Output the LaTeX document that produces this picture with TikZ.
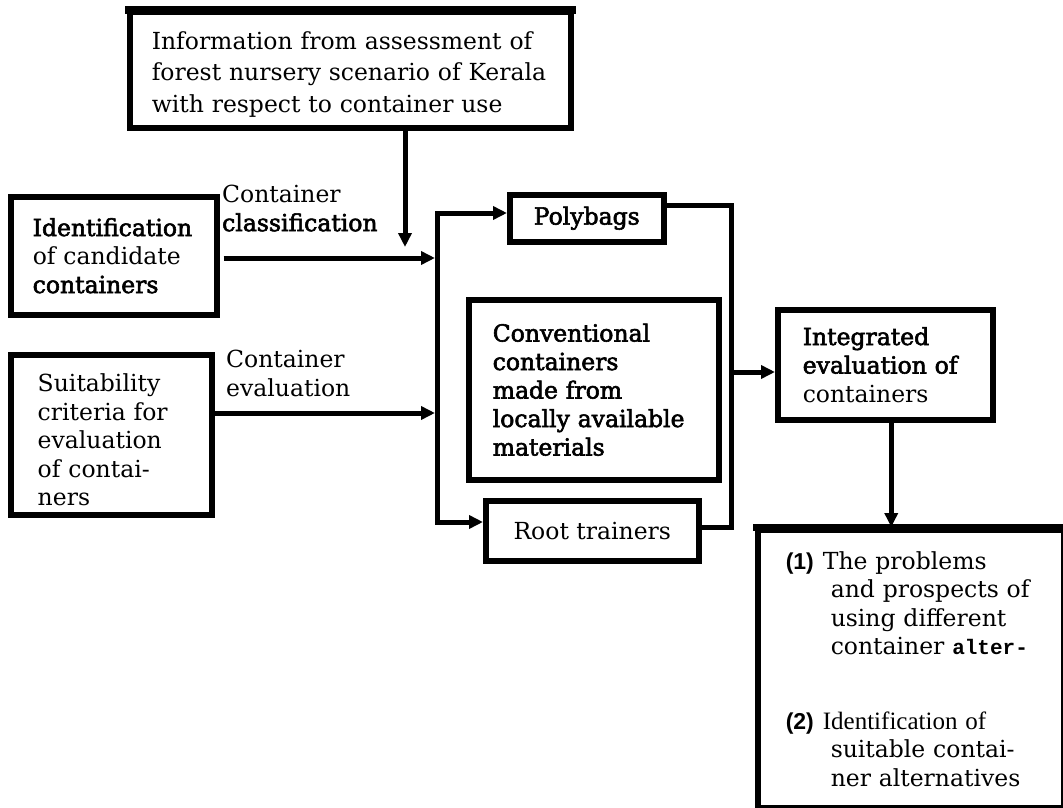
\documentclass[tikz,border=0pt]{standalone}
\usepackage{fontspec}
\setmainfont{DejaVu Serif}
\newfontfamily\bkfont[FakeBold=2.5]{DejaVu Serif}
\newfontfamily\tmfont{Liberation Serif}
\newfontfamily\sbfont{Liberation Sans}
\newfontfamily\mbfont{Liberation Mono}
\usetikzlibrary{positioning, arrows.meta, calc}
\newcommand{\bk}{\bkfont}
\newcommand{\nr}[1]{{\sbfont\bfseries\fontsize{23}{28.5}\selectfont #1}\hspace{9pt}}
\hyphenpenalty=10000

\begin{document}
\begin{tikzpicture}[x=1pt,y=-1pt,
 font=\fontsize{23.5}{28.5}\selectfont,
 bx/.style={draw, line width=5.5pt, anchor=north west, align=left, inner ysep=0pt},
 lbl/.style={anchor=north west, inner sep=0pt, align=left},
 ln/.style={line width=5pt},
 arr/.style={ln, -{Triangle[length=14pt,width=13pt]}}]
\useasboundingbox (0,0) rectangle (1063,808);

\node[bx, minimum width=441pt, minimum height=115pt, text width=397pt, inner xsep=22pt,
 font=\fontsize{23.5}{31.5}\selectfont](info) at (127,10) {\rule{0pt}{26pt}\mbox{Information from assessment of}\\
\mbox{forest nursery scenario of Kerala}\\\mbox{with respect to container use}};
\node[bx, minimum width=206pt, minimum height=118pt, text width=162pt, inner xsep=22pt](ident) at (8,194) {{\bk Identification}\\of candidate\\{\bk containers}};
\node[bx, minimum width=201pt, minimum height=160pt, text width=147pt, inner xsep=27pt](suit) at (8,352) {\rule{0pt}{28pt}Suitability\\criteria for\\evaluation\\of contai-\\ners};
\node[lbl](cls) at (222,185) {Container\\{\bk classification}};
\node[lbl](evl) at (226,350) {Container\\evaluation};

\node[bx, minimum width=154pt, minimum height=47pt](poly) at (507,192) {\bk Polybags};
\node[bx, minimum width=250pt, minimum height=180pt, text width=202pt, inner xsep=24pt](conv) at (466,297) {\bk Conventional\\containers\\made from\\locally available\\materials};
\node[bx, minimum width=213pt, minimum height=60pt](root) at (483,498) {Root trainers};

\node[bx, minimum width=215pt, minimum height=110pt, text width=165pt, inner xsep=25pt](integ) at (775,307) {{\bk Integrated}\\{\bk evaluation of}\\containers};
\node[bx, minimum width=306pt, minimum height=278pt, text width=250pt, inner xsep=28pt](res) at (755,527) {\nr{(1)}The problems\\
\hspace*{45pt}and prospects of\\\hspace*{45pt}using different\\\hspace*{45pt}container {\mbfont\bfseries\fontsize{21}{28.5}\selectfont alter-}\\[46pt]
\nr{(2)}{\tmfont\fontsize{25}{28.5}\selectfont Identification of}\\\hspace*{45pt}suitable contai-\\\hspace*{45pt}ner alternatives};

\draw[line width=7.5pt]([xshift=-2pt]info.north west)--([xshift=2pt]info.north east);
\draw[line width=7pt]([xshift=-2pt]res.north west)--([xshift=2pt]res.north east);

\coordinate (merge) at (405,247);
\coordinate (jtop) at (437,213);
\coordinate (jbot) at (437,522);
\coordinate (jin1) at (437,258);
\coordinate (jin2) at (437,413);
\coordinate (rtop) at (731,205);
\coordinate (rbot) at (731,527);
\coordinate (rmid) at (731,372);

\draw[arr](info.south -| merge)--(merge);
\draw[arr]([xshift=4pt]ident.east |- jin1)--([xshift=-2pt]jin1);
\draw[arr](suit.east |- jin2)--([xshift=-2pt]jin2);
\draw[arr](jbot)--(jtop)--(poly.west |- jtop);
\draw[arr](jtop)--(jbot)--(root.west |- jbot);
\draw[ln](poly.east |- rtop)--(rtop)--(rbot)--(root.east |- rbot);
\draw[arr](rmid)--(integ.west |- rmid);
\draw[arr]([xshift=6pt]integ.south)--([xshift=6pt]integ.south |- res.north);

\end{tikzpicture}
\end{document}
